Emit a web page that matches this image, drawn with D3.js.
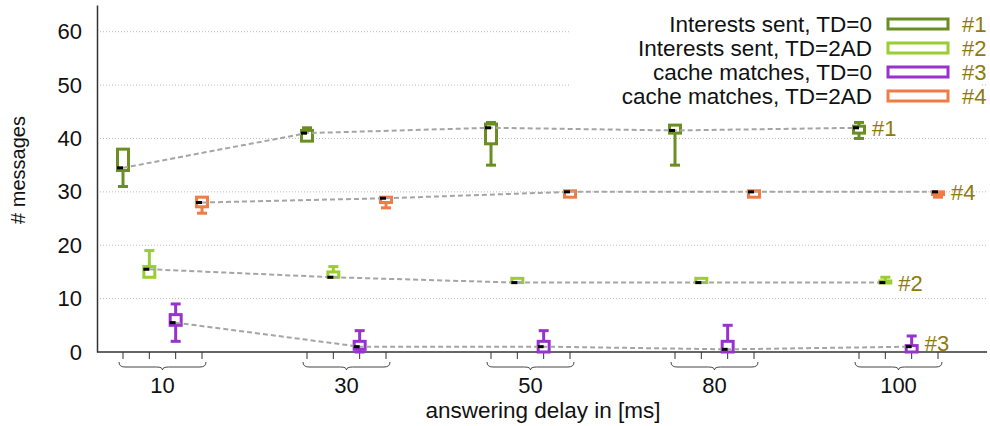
<!DOCTYPE html>
<html>
<head>
<meta charset="utf-8">
<script src="https://cdn.jsdelivr.net/npm/d3@7"></script>
<style>
  body { margin: 0; background: #fff; }
  svg text { font-family: "Liberation Sans", Arial, sans-serif; }
</style>
</head>
<body>
<div id="chart"></div>
<script>
// answering delay groups
const delays = ["10", "30", "50", "80", "100"]
const yTicks = [0, 10, 20, 30, 40, 50, 60]

// each entry: [min, q1, median, q3, max] per delay
const sentTD0 = [[31, 34, 34.5, 38, 38], [39.5, 39.5, 41, 41.5, 42], [35, 39, 42, 42.7, 43], [35, 41, 41.5, 42.5, 42.5], [40, 41, 42, 42.3, 43]]
const sentTD2AD = [[14, 14, 15.5, 16, 19], [14, 14, 14, 15, 16], [13, 13, 13, 13.8, 13.8], [13, 13, 13, 13.8, 13.8], [13, 13, 13, 13.3, 14]]
const cacheTD0 = [[2, 5, 5.5, 7, 9], [0, 0.5, 1, 2, 4], [0, 0, 1, 2, 4], [0, 0, 0.5, 2, 5], [0, 0, 1, 1.2, 3]]
const cacheTD2AD = [[26, 27.2, 28, 29, 29], [27, 28, 28.8, 29, 29], [29, 29, 30, 30.2, 30.2], [29, 29, 30, 30.2, 30.2], [29, 29.5, 30, 30, 30]]

const seriesNames = ["Interests sent, TD=0", "Interests sent, TD=2AD", "cache matches, TD=0", "cache matches, TD=2AD"]
const seriesTags = ["#1", "#2", "#3", "#4"]
const seriesColors = ["#6b8e23", "#9acd32", "#9932cc", "#f07c45"]
const seriesData = [sentTD0, sentTD2AD, cacheTD0, cacheTD2AD]

const width = 990
const height = 426
const margin = { left: 97, right: 3, top: 5, bottom: 74 }
const tagColor = "#8f7a0c"

const svg = d3.select("#chart").append("svg")
  .attr("width", width)
  .attr("height", height)

const x = d3.scalePoint().domain(delays).range([162.5, 898.5])
const xs = d3.scalePoint().domain(d3.range(4)).range([-39.5, 39.5])
const y = d3.scaleLinear().domain([0, 65]).range([height - margin.bottom, margin.top])
const x0 = margin.left
const x1 = width - margin.right

// grid
svg.append("g").selectAll("line")
  .data(yTicks.filter(d => d > 0))
  .enter().append("line")
  .attr("x1", x0).attr("x2", x1)
  .attr("y1", d => y(d)).attr("y2", d => y(d))
  .attr("stroke", "#bbb")
  .attr("stroke-width", 1)
  .attr("stroke-dasharray", "1,2")

// y axis
const yAxis = svg.append("g")
  .attr("transform", "translate(" + x0 + ",0)")
  .call(d3.axisLeft(y).tickValues(yTicks).tickSize(0).tickPadding(15))
yAxis.select(".domain").attr("stroke", "#333").attr("stroke-width", 1.5)
yAxis.selectAll("text").attr("font-size", 22).attr("fill", "#111")
  .attr("font-family", "Liberation Sans, Arial, sans-serif")

// bottom line + ticks for each box position
svg.append("line")
  .attr("x1", x0).attr("x2", x1)
  .attr("y1", y(0)).attr("y2", y(0))
  .attr("stroke", "#333").attr("stroke-width", 1.5)

const tickPos = []
delays.forEach(g => d3.range(4).forEach(s => tickPos.push(x(g) + xs(s))))
svg.append("g").selectAll("line")
  .data(tickPos)
  .enter().append("line")
  .attr("x1", d => d).attr("x2", d => d)
  .attr("y1", y(0)).attr("y2", y(0) + 7)
  .attr("stroke", "#333").attr("stroke-width", 1)

// braces under each group
function brace(a, b, top) {
  const c = (a + b) / 2
  const r = 6
  const yb = top + 5
  return "M" + a + "," + top +
    " Q" + a + "," + yb + " " + (a + r) + "," + yb +
    " L" + (c - r) + "," + yb +
    " Q" + c + "," + yb + " " + c + "," + (yb + 3) +
    " Q" + c + "," + yb + " " + (c + r) + "," + yb +
    " L" + (b - r) + "," + yb +
    " Q" + b + "," + yb + " " + b + "," + top
}
svg.append("g").selectAll("path")
  .data(delays)
  .enter().append("path")
  .attr("d", d => brace(x(d) + xs(0) - 4, x(d) + xs(3) + 4, y(0) + 10))
  .attr("fill", "none")
  .attr("stroke", "#444")
  .attr("stroke-width", 1)

svg.append("g").selectAll("text")
  .data(delays)
  .enter().append("text")
  .attr("x", d => x(d))
  .attr("y", y(0) + 41)
  .attr("text-anchor", "middle")
  .attr("font-size", 22)
  .attr("fill", "#111")
  .text(d => d)

svg.append("text")
  .attr("x", 543)
  .attr("y", 418)
  .attr("text-anchor", "middle")
  .attr("font-size", 22.5)
  .attr("fill", "#111")
  .text("answering delay in [ms]")

svg.append("text")
  .attr("transform", "translate(25," + 170 + ") rotate(-90)")
  .attr("text-anchor", "middle")
  .attr("font-size", 20)
  .attr("fill", "#111")
  .text("# messages")

// legend background hides grid
svg.append("rect")
  .attr("x", 570).attr("y", 8)
  .attr("width", 410).attr("height", 100)
  .attr("fill", "#fff")

// boxes
const boxW = 11
const capW = 10
seriesData.forEach((data, s) => {
  const color = seriesColors[s]
  const g = svg.append("g")
  const items = data.map((d, i) => ({ cx: x(delays[i]) + xs(s), v: d }))

  g.selectAll(".whisker")
    .data(items)
    .enter().append("line")
    .attr("x1", d => d.cx).attr("x2", d => d.cx)
    .attr("y1", d => y(d.v[0])).attr("y2", d => y(d.v[4]))
    .attr("stroke", color).attr("stroke-width", 3)

  g.selectAll(".capLo")
    .data(items.filter(d => d.v[0] < d.v[1]))
    .enter().append("line")
    .attr("x1", d => d.cx - capW / 2).attr("x2", d => d.cx + capW / 2)
    .attr("y1", d => y(d.v[0])).attr("y2", d => y(d.v[0]))
    .attr("stroke", color).attr("stroke-width", 3)

  g.selectAll(".capHi")
    .data(items.filter(d => d.v[4] > d.v[3]))
    .enter().append("line")
    .attr("x1", d => d.cx - capW / 2).attr("x2", d => d.cx + capW / 2)
    .attr("y1", d => y(d.v[4])).attr("y2", d => y(d.v[4]))
    .attr("stroke", color).attr("stroke-width", 3)

  g.selectAll("rect")
    .data(items)
    .enter().append("rect")
    .attr("x", d => d.cx - boxW / 2)
    .attr("y", d => y(d.v[3]))
    .attr("width", boxW)
    .attr("height", d => Math.max(y(d.v[1]) - y(d.v[3]), 2))
    .attr("fill", "#fff")
    .attr("stroke", color)
    .attr("stroke-width", 3)
})

// dashed median lines
const line = d3.line().x(d => d[0]).y(d => d[1])
seriesData.forEach((data, s) => {
  const pts = data.map((d, i) => [x(delays[i]) + xs(s), y(d[2])])
  svg.append("path")
    .attr("d", line(pts))
    .attr("fill", "none")
    .attr("stroke", "#a5a5a5")
    .attr("stroke-width", 2)
    .attr("stroke-dasharray", "5,3")

  svg.append("g").selectAll("line")
    .data(pts)
    .enter().append("line")
    .attr("x1", d => d[0] - 6).attr("x2", d => d[0])
    .attr("y1", d => d[1]).attr("y2", d => d[1])
    .attr("stroke", "#000").attr("stroke-width", 3)

  const last = pts[pts.length - 1]
  svg.append("text")
    .attr("x", last[0] + 13)
    .attr("y", last[1] + (s === 2 ? 4 : 8))
    .attr("font-size", 22)
    .attr("fill", tagColor)
    .text(seriesTags[s])
})

// legend
const leg = svg.append("g")
const rowY = d => 24 + d * 24
leg.selectAll(".lt")
  .data(seriesNames)
  .enter().append("text")
  .attr("x", 872)
  .attr("y", (d, i) => rowY(i) + 8)
  .attr("text-anchor", "end")
  .attr("font-size", 22.5)
  .attr("fill", "#111")
  .text(d => d)
leg.selectAll("rect")
  .data(seriesColors)
  .enter().append("rect")
  .attr("x", 888)
  .attr("y", (d, i) => rowY(i) - 5)
  .attr("width", 60)
  .attr("height", 10)
  .attr("fill", "#fff")
  .attr("stroke", d => d)
  .attr("stroke-width", 3)
leg.selectAll(".tag")
  .data(seriesTags)
  .enter().append("text")
  .attr("x", 962)
  .attr("y", (d, i) => rowY(i) + 8)
  .attr("font-size", 22)
  .attr("fill", tagColor)
  .text(d => d)
</script>
</body>
</html>
